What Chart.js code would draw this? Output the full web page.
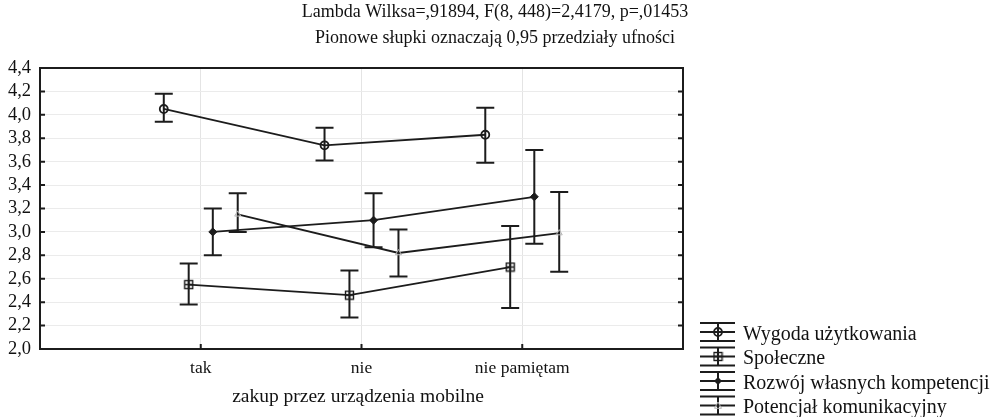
<!DOCTYPE html>
<html><head><meta charset="utf-8">
<script src="https://cdn.jsdelivr.net/npm/chart.js@4.4.0/dist/chart.umd.min.js"></script>
<style>html,body{margin:0;padding:0;background:#fff;}canvas{display:block;}</style>
</head><body>
<canvas id="c" width="995" height="417"></canvas>
<script>
// ---- data ----
const titleLines = ['Lambda Wilksa=,91894, F(8, 448)=2,4179, p=,01453', 'Pionowe słupki oznaczają 0,95 przedziały ufności'];
const xAxisTitle = 'zakup przez urządzenia mobilne';
const categories = ['tak', 'nie', 'nie pamiętam'];
const seriesLabels = ['Wygoda użytkowania', 'Społeczne', 'Rozwój własnych kompetencji', 'Potencjał komunikacyjny'];
const yTickLabels = ['2,0','2,2','2,4','2,6','2,8','3,0','3,2','3,4','3,6','3,8','4,0','4,2','4,4'];

const wygodaMean = [4.05, 3.74, 3.83];
const wygodaLow  = [3.94, 3.61, 3.59];
const wygodaHigh = [4.18, 3.89, 4.06];

const spoleczneMean = [2.55, 2.46, 2.70];
const spoleczneLow  = [2.38, 2.27, 2.35];
const spoleczneHigh = [2.73, 2.67, 3.05];

const rozwojMean = [3.00, 3.10, 3.30];
const rozwojLow  = [2.80, 2.87, 2.90];
const rozwojHigh = [3.20, 3.33, 3.70];

const potencjalMean = [3.15, 2.82, 2.99];
const potencjalLow  = [3.00, 2.62, 2.66];
const potencjalHigh = [3.33, 3.02, 3.34];

// ---- styling / layout ----
const FONT = "'Liberation Serif', 'Times New Roman', serif";
const INK = '#1c1c1c';
const offsets = [-0.23, -0.075, 0.075, 0.23];

function squareCross() {
  const c = document.createElement('canvas'); c.width = 11; c.height = 11;
  const g = c.getContext('2d');
  g.strokeStyle = INK; g.lineWidth = 1.4;
  g.strokeRect(1.5, 1.5, 8, 8);
  g.beginPath(); g.moveTo(5.5, 1.5); g.lineTo(5.5, 9.5); g.moveTo(1.5, 5.5); g.lineTo(9.5, 5.5); g.stroke();
  return c;
}
const sqImg = squareCross();

const markerStyles = [
  {pointStyle: 'circle', radius: 4, bg: 'rgba(0,0,0,0)', border: INK, bw: 1.8},
  {pointStyle: sqImg, radius: 5, bg: 'rgba(0,0,0,0)', border: INK, bw: 1},
  {pointStyle: 'rectRot', radius: 4, bg: INK, border: INK, bw: 1},
  {pointStyle: 'triangle', radius: 3.5, bg: 'rgba(0,0,0,0)', border: '#b5b5b5', bw: 1}
];

const means = [wygodaMean, spoleczneMean, rozwojMean, potencjalMean];
const lows = [wygodaLow, spoleczneLow, rozwojLow, potencjalLow];
const highs = [wygodaHigh, spoleczneHigh, rozwojHigh, potencjalHigh];

const datasets = seriesLabels.map((lab, s) => ({
  label: lab,
  data: means[s].map((m, i) => ({x: i + offsets[s], y: m})),
  errLow: lows[s], errHigh: highs[s],
  borderColor: INK, borderWidth: 1.8,
  pointStyle: markerStyles[s].pointStyle,
  pointRadius: markerStyles[s].radius,
  pointBackgroundColor: markerStyles[s].bg,
  pointBorderColor: markerStyles[s].border,
  pointBorderWidth: markerStyles[s].bw,
  pointHoverRadius: markerStyles[s].radius,
  fill: false, tension: 0
}));

function drawMarker(ctx, s, x, y) {
  const m = markerStyles[s];
  ctx.save();
  if (m.pointStyle === 'circle') {
    ctx.strokeStyle = m.border; ctx.lineWidth = m.bw;
    ctx.beginPath(); ctx.arc(x, y, m.radius, 0, Math.PI * 2); ctx.stroke();
  } else if (m.pointStyle === 'rectRot') {
    ctx.fillStyle = m.bg;
    ctx.beginPath(); ctx.moveTo(x, y - m.radius); ctx.lineTo(x + m.radius, y); ctx.lineTo(x, y + m.radius); ctx.lineTo(x - m.radius, y); ctx.closePath(); ctx.fill();
  } else if (m.pointStyle === 'triangle') {
    ctx.strokeStyle = m.border; ctx.lineWidth = m.bw;
    ctx.beginPath(); ctx.moveTo(x, y - m.radius); ctx.lineTo(x + m.radius, y + m.radius * 0.8); ctx.lineTo(x - m.radius, y + m.radius * 0.8); ctx.closePath(); ctx.stroke();
  } else {
    ctx.drawImage(m.pointStyle, x - m.pointStyle.width / 2, y - m.pointStyle.height / 2);
  }
  ctx.restore();
}

const errorBars = {
  id: 'errorBars',
  beforeDatasetsDraw(chart) {
    const ctx = chart.ctx, xs = chart.scales.x, ys = chart.scales.y;
    ctx.save();
    ctx.strokeStyle = INK; ctx.lineWidth = 2;
    chart.data.datasets.forEach((ds) => {
      ds.data.forEach((p, i) => {
        const x = xs.getPixelForValue(p.x);
        const yl = ys.getPixelForValue(ds.errLow[i]);
        const yh = ys.getPixelForValue(ds.errHigh[i]);
        ctx.beginPath();
        ctx.moveTo(x, yl); ctx.lineTo(x, yh);
        ctx.moveTo(x - 9, yl); ctx.lineTo(x + 9, yl);
        ctx.moveTo(x - 9, yh); ctx.lineTo(x + 9, yh);
        ctx.stroke();
      });
    });
    ctx.restore();
  }
};

const frame = {
  id: 'frame',
  afterDraw(chart) {
    const ctx = chart.ctx, a = chart.chartArea, xs = chart.scales.x, ys = chart.scales.y;
    ctx.save();
    ctx.strokeStyle = INK; ctx.lineWidth = 2;
    ctx.strokeRect(a.left, a.top, a.right - a.left, a.bottom - a.top);
    ctx.beginPath();
    ys.ticks.forEach(t => {
      const y = ys.getPixelForValue(t.value);
      ctx.moveTo(a.left, y); ctx.lineTo(a.left + 5, y);
      ctx.moveTo(a.right, y); ctx.lineTo(a.right - 5, y);
    });
    categories.forEach((c, i) => {
      const x = xs.getPixelForValue(i);
      ctx.moveTo(x, a.bottom); ctx.lineTo(x, a.bottom - 5);
    });
    ctx.stroke();

    // titles
    ctx.fillStyle = '#111';
    ctx.textAlign = 'center'; ctx.textBaseline = 'alphabetic';
    ctx.font = '18px ' + FONT;
    ctx.fillText(titleLines[0], 495, 17);
    ctx.fillText(titleLines[1], 495, 43);
    ctx.font = '19.5px ' + FONT;
    ctx.fillText(xAxisTitle, 358, 402);

    // legend
    ctx.font = '20px ' + FONT;
    ctx.textAlign = 'left';
    seriesLabels.forEach((lab, s) => {
      const cy = 332 + s * 24.5;
      ctx.strokeStyle = INK; ctx.lineWidth = 2;
      ctx.beginPath();
      ctx.moveTo(700, cy); ctx.lineTo(735, cy);
      ctx.moveTo(700, cy - 9); ctx.lineTo(735, cy - 9);
      ctx.moveTo(700, cy + 9); ctx.lineTo(735, cy + 9);
      ctx.moveTo(718, cy - 9); ctx.lineTo(718, cy + 9);
      ctx.stroke();
      drawMarker(ctx, s, 718, cy);
      ctx.fillStyle = '#111';
      ctx.fillText(lab, 743, cy + 7.5);
    });
    ctx.restore();
  }
};

new Chart(document.getElementById('c'), {
  type: 'line',
  data: {datasets},
  options: {
    responsive: false, animation: false,
    layout: {padding: {top: 68, right: 312, bottom: 0, left: 0}},
    plugins: {legend: {display: false}, title: {display: false}, tooltip: {enabled: false}},
    scales: {
      x: {
        type: 'linear', min: -1, max: 3,
        afterFit: (s) => { s.height = 68; },
        afterBuildTicks: (s) => { s.ticks = [-1, 0, 1, 2, 3].map(v => ({value: v})); },
        ticks: {
          stepSize: 1, padding: 9, color: '#111', maxRotation: 0, autoSkip: false,
          font: {family: FONT, size: 17.5},
          callback: (v) => (v >= 0 && v <= 2) ? categories[Math.round(v)] : ''
        },
        grid: {drawTicks: false, color: (c) => (c.tick && c.tick.value >= 0 && c.tick.value <= 2) ? '#e4e4e4' : 'rgba(0,0,0,0)', lineWidth: 1},
        border: {display: false}
      },
      y: {
        type: 'linear', min: 2.0, max: 4.4,
        afterFit: (s) => { s.width = 40; },
        ticks: {
          stepSize: 0.2, padding: 9, color: '#111', autoSkip: false,
          font: {family: FONT, size: 18.5},
          callback: (v, i) => yTickLabels[i]
        },
        grid: {drawTicks: false, color: '#ebebeb', lineWidth: 1},
        border: {display: false}
      }
    }
  },
  plugins: [errorBars, frame]
});
</script>
</body></html>
